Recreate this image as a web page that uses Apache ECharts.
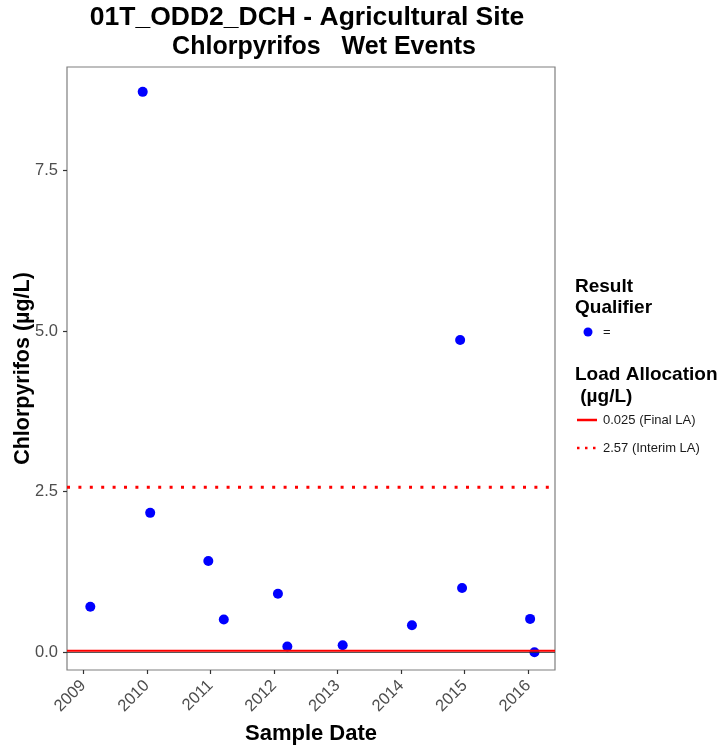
<!DOCTYPE html>
<html>
<head>
<meta charset="utf-8">
<script src="https://cdn.jsdelivr.net/npm/echarts@6/dist/echarts.min.js"></script>
<style>
  html, body { margin: 0; padding: 0; background: #fff; }
  #chart { width: 722px; height: 746px; }
</style>
</head>
<body>
<div id="chart"></div>
<script>
// sample dates and chlorpyrifos results (ug/L)
var sampleDates = ['2009-02-10', '2009-12-08', '2010-01-20', '2010-12-20', '2011-03-19',
    '2012-01-24', '2012-03-18', '2013-01-30', '2014-03-04', '2014-12-06',
    '2014-12-17', '2016-01-12', '2016-02-06'];
var results = [0.71, 8.72, 2.17, 1.42, 0.51, 0.91, 0.09, 0.11, 0.42, 4.86, 1.00, 0.52, 0.0];

// load allocations
var finalLA = 0.025;
var interimLA = 2.57;

// axis ticks
var yearTicks = [2009, 2010, 2011, 2012, 2013, 2014, 2015, 2016];
var yTicks = [0, 2.5, 5, 7.5];
var xMinDate = '2008-09-29', xMaxDate = '2016-06-03';
var yMin = -0.275, yMax = 9.107;

// date string -> timestamp (x axis is a plain value axis of timestamps)
function ts(s) {
    var p = s.split('-');
    return Date.UTC(+p[0], +p[1] - 1, +p[2]);
}
var xMin = ts(xMinDate), xMax = ts(xMaxDate);
var xTickValues = yearTicks.map(function (y) { return Date.UTC(y, 0, 1); });

var chart = echarts.init(document.getElementById('chart'));

var points = sampleDates.map(function (d, i) { return [ts(d), results[i]]; });
var hline = function (v) { return [[xMin, v], [xMax, v]]; };

var font = 'Liberation Sans, Arial, sans-serif';

var option = {
    backgroundColor: '#fff',
    animation: false,
    textStyle: { fontFamily: font },
    grid: {
        left: 67, top: 67, right: 167, bottom: 76,
        outerBoundsMode: 'none', containLabel: false,
        show: true, borderColor: '#7f7f7f', borderWidth: 1.2
    },
    xAxis: {
        type: 'value',
        min: xMin, max: xMax,
        splitLine: { show: false },
        axisLine: { show: false, onZero: false },
        axisTick: {
            show: true, length: 4, lineStyle: { color: '#333', width: 1.2 },
            customValues: xTickValues
        },
        axisLabel: {
            rotate: 45, fontSize: 16.5, color: '#4d4d4d', margin: 13, fontFamily: font,
            customValues: xTickValues,
            formatter: function (v) { return String(new Date(v).getUTCFullYear()); }
        },
        name: 'Sample Date',
        nameLocation: 'middle',
        nameGap: 53,
        nameMoveOverlap: false,
        nameTextStyle: { fontSize: 22, fontWeight: 'bold', color: '#000', fontFamily: font }
    },
    yAxis: {
        type: 'value',
        min: yMin, max: yMax,
        splitLine: { show: false },
        axisLine: { show: false, onZero: false },
        axisTick: {
            show: true, length: 4, lineStyle: { color: '#333', width: 1.2 },
            customValues: yTicks
        },
        axisLabel: {
            fontSize: 16.5, color: '#4d4d4d', margin: 9, fontFamily: font,
            customValues: yTicks,
            formatter: function (v) { return v.toFixed(1); }
        },
        name: 'Chlorpyrifos (µg/L)',
        nameLocation: 'middle',
        nameGap: 33,
        nameMoveOverlap: false,
        nameTextStyle: { fontSize: 21.5, fontWeight: 'bold', color: '#000', fontFamily: font }
    },
    series: [
        {
            name: 'zero', type: 'line', data: hline(0), symbol: 'none', silent: true,
            lineStyle: { color: '#333', width: 1 }
        },
        {
            name: '0.025 (Final LA)', type: 'line', data: hline(finalLA), symbol: 'none', silent: true,
            lineStyle: { color: '#ff0000', width: 2 }
        },
        {
            name: '2.57 (Interim LA)', type: 'line', data: hline(interimLA), symbol: 'none', silent: true,
            lineStyle: { color: '#ff0000', width: 3, type: [3, 8.4], cap: 'butt' }
        },
        {
            name: '=', type: 'scatter', data: points, symbol: 'circle', symbolSize: 10,
            itemStyle: { color: '#0000ff', opacity: 1 }
        }
    ],
    graphic: [
        { type: 'text', x: 307, y: 18, style: { text: '01T_ODD2_DCH - Agricultural Site', font: 'bold 26.5px ' + font, fill: '#000', textAlign: 'center', textVerticalAlign: 'middle' } },
        { type: 'text', x: 324, y: 47, style: { text: 'Chlorpyrifos   Wet Events', font: 'bold 25px ' + font, fill: '#000', textAlign: 'center', textVerticalAlign: 'middle' } },
        // legend: result qualifier
        { type: 'text', x: 575, y: 287, style: { text: 'Result', font: 'bold 19px ' + font, fill: '#000', textVerticalAlign: 'middle' } },
        { type: 'text', x: 575, y: 308, style: { text: 'Qualifier', font: 'bold 19px ' + font, fill: '#000', textVerticalAlign: 'middle' } },
        { type: 'circle', shape: { cx: 588, cy: 332, r: 4.5 }, style: { fill: '#0000ff' } },
        { type: 'text', x: 603, y: 332, style: { text: '=', font: '13px ' + font, fill: '#1a1a1a', textVerticalAlign: 'middle' } },
        // legend: load allocation
        { type: 'text', x: 575, y: 375, style: { text: 'Load Allocation', font: 'bold 19px ' + font, fill: '#000', textVerticalAlign: 'middle' } },
        { type: 'text', x: 575, y: 397, style: { text: ' (µg/L)', font: 'bold 19px ' + font, fill: '#000', textVerticalAlign: 'middle' } },
        { type: 'line', shape: { x1: 577, y1: 420, x2: 597, y2: 420 }, style: { stroke: '#ff0000', lineWidth: 2.5 } },
        { type: 'text', x: 603, y: 420, style: { text: '0.025 (Final LA)', font: '13px ' + font, fill: '#1a1a1a', textVerticalAlign: 'middle' } },
        { type: 'line', shape: { x1: 577, y1: 448, x2: 597, y2: 448 }, style: { stroke: '#ff0000', lineWidth: 2.5, lineDash: [2.5, 5.5] } },
        { type: 'text', x: 603, y: 448, style: { text: '2.57 (Interim LA)', font: '13px ' + font, fill: '#1a1a1a', textVerticalAlign: 'middle' } }
    ]
};

chart.setOption(option);
</script>
</body>
</html>
